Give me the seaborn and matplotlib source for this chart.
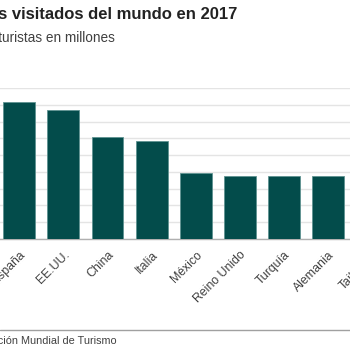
import matplotlib
matplotlib.use("Agg")
import matplotlib.pyplot as plt
import seaborn as sns
import pandas as pd
from matplotlib.lines import Line2D

# Data (millions of international tourist arrivals, 2017)
countries = ["Francia", "España", "EE.UU.", "China", "Italia", "México",
             "Reino Unido", "Turquía", "Alemania", "Tailandia"]
tourists = [86.9, 81.8, 76.9, 60.7, 58.3, 39.3, 37.7, 37.6, 37.5, 35.4]
title = "Los países más visitados del mundo en 2017"
subtitle = "Número de turistas en millones"
source = "Fuente: Organización Mundial de Turismo"

df = pd.DataFrame({"pais": countries, "turistas": tourists})

sns.set_theme(style="white")
plt.rcParams["font.family"] = ["Liberation Sans", "DejaVu Sans"]

W, H = 350, 350
fig = plt.figure(figsize=(3.5, 3.5), dpi=100)
fig.patch.set_facecolor("white")

# axes placement in pixel terms (chart is a crop of a wider graphic)
left_px, right_px = -47.0, 394.5
top_px, base_px = 88.0, 239.0
ax = fig.add_axes([left_px / W, (H - base_px) / H,
                   (right_px - left_px) / W, (base_px - top_px) / H])

sns.barplot(data=df, x="pais", y="turistas", color="#034c4b",
            width=0.72, saturation=1, edgecolor="#5f9391", linewidth=0.6,
            ax=ax, zorder=3)

ax.set_xlim(-0.5, 9.5)
ax.set_ylim(0, 90)
ax.set_yticks(range(0, 91, 10))
ax.yaxis.grid(True, color="#e4e4e4", linewidth=1.0, zorder=0)
ax.set_axisbelow(True)
ax.tick_params(axis="y", left=False, labelleft=False)
ax.tick_params(axis="x", bottom=False, pad=1, labelsize=8.8, labelcolor="#404040")
for s in ["top", "right", "left"]:
    ax.spines[s].set_visible(False)
ax.spines["bottom"].set_color("#b0b0b0")
ax.spines["bottom"].set_linewidth(1.0)
ax.set_xlabel("")
ax.set_ylabel("")
plt.setp(ax.get_xticklabels(), rotation=45, ha="right", rotation_mode="anchor")

# titles (clipped at left edge as in the crop)
fig.text(237 / W, 1 - 14 / H, title, ha="right", va="center",
         fontsize=12.0, fontweight="bold", color="#222222")
fig.text(115 / W, 1 - 38 / H, subtitle, ha="right", va="center",
         fontsize=9.8, color="#404040")

# footer rule and source
fig.add_artist(Line2D([0, 1], [1 - 329.5 / H, 1 - 329.5 / H],
                      transform=fig.transFigure, color="#a0a0a0", linewidth=1.0))
fig.text(117 / W, 1 - 340.5 / H, source, ha="right", va="center",
         fontsize=7.8, color="#404040")

fig.savefig("out.png", dpi=100, facecolor="white")
